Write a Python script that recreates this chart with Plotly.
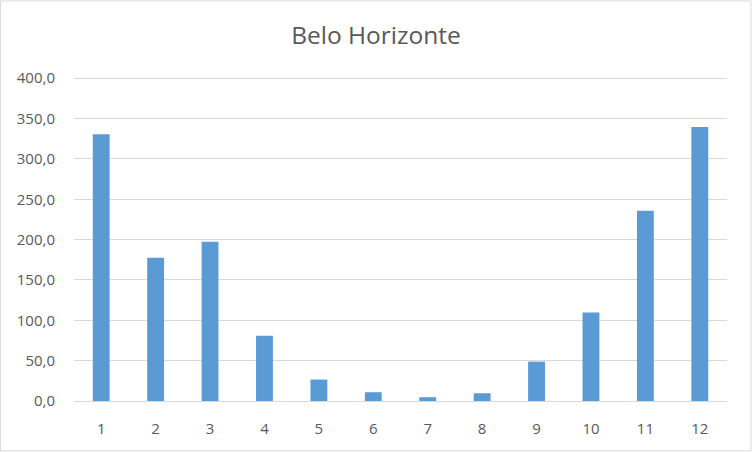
import plotly.graph_objects as go

months = ["1", "2", "3", "4", "5", "6", "7", "8", "9", "10", "11", "12"]
rainfall = [330.7, 177.4, 197.2, 81.0, 26.6, 10.9, 4.7, 9.6, 48.8, 109.8, 235.9, 339.7]
y_ticks = [0, 50, 100, 150, 200, 250, 300, 350, 400]

W, H = 752, 452
YMAX = 404
px_per_unit = 323.5 / 400
ml, mr, mb = 74, 24.5, 50.5
ph = YMAX * px_per_unit
mt = H - mb - ph
pw = W - ml - mr
FONT = "Open Sans, Segoe UI, sans-serif"
GREY = "#595959"

fig = go.Figure(go.Bar(x=months, y=rainfall, marker=dict(color="#5b9bd5", line=dict(width=0)),
                       width=0.31))

fig.update_layout(
    width=W, height=H,
    margin=dict(l=ml, r=mr, t=mt, b=mb, pad=0),
    paper_bgcolor="white", plot_bgcolor="white",
    separators=",.",
    font=dict(family=FONT, color=GREY, size=15),
    title=dict(text="Belo Horizonte", x=0.5, xanchor="center", y=1 - 35 / H, yanchor="middle",
               font=dict(family=FONT, size=24.5, color=GREY)),
    showlegend=False,
    xaxis=dict(type="category", showgrid=False, showline=True, linecolor="#d9d9d9", linewidth=1,
               ticks="outside", ticklen=14, tickcolor="rgba(0,0,0,0)",
               tickfont=dict(family=FONT, size=15, color=GREY)),
    yaxis=dict(range=[0, YMAX], tickvals=y_ticks, tickformat=".1f", showgrid=True,
               gridcolor="#d9d9d9", gridwidth=1, zeroline=False, showline=False,
               ticks="outside", ticklen=15, tickcolor="rgba(0,0,0,0)",
               tickfont=dict(family=FONT, size=15, color=GREY)),
    shapes=[dict(type="rect", xref="paper", yref="paper",
                 x0=(0.5 - ml) / pw, x1=(W - 0.5 - ml) / pw,
                 y0=(H - mb - (H - 0.5)) / ph, y1=(H - mb - 0.5) / ph,
                 line=dict(color="#d9d9d9", width=1), fillcolor="rgba(0,0,0,0)", layer="below")],
)

fig.write_html("out.html", config={"displayModeBar": False},
               post_script="document.body.style.margin='0px';")
